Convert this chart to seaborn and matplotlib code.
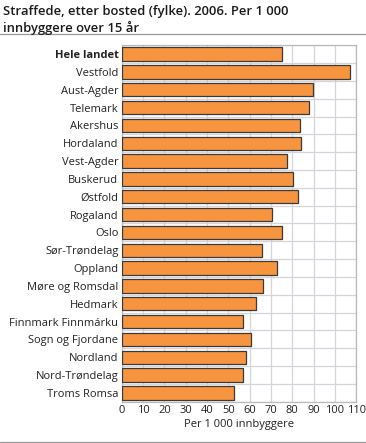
import numpy as np
import pandas as pd
import matplotlib
matplotlib.use("Agg")
import matplotlib.pyplot as plt
import seaborn as sns

fylker = ["Hele landet", "Vestfold", "Aust-Agder", "Telemark", "Akershus",
          "Hordaland", "Vest-Agder", "Buskerud", "Østfold", "Rogaland", "Oslo",
          "Sør-Trøndelag", "Oppland", "Møre og Romsdal", "Hedmark",
          "Finnmark Finnmárku", "Sogn og Fjordane", "Nordland",
          "Nord-Trøndelag", "Troms Romsa"]
per_1000 = [75.4, 106.9, 89.6, 87.7, 83.6, 84.1, 77.6, 80.2, 82.7, 70.5, 75.2,
            65.9, 72.7, 66.3, 63.2, 56.9, 60.5, 58.4, 57.1, 52.6]
x_ticks = list(range(0, 111, 10))

df = pd.DataFrame({"fylke": fylker, "verdi": per_1000})

sns.set_style("white")
plt.rcParams["font.family"] = ["Open Sans", "DejaVu Sans"]

fig = plt.figure(figsize=(3.66, 4.43), dpi=100)
ax = fig.add_axes([0.333, 0.093, 0.64, 0.805])

sns.barplot(data=df, x="verdi", y="fylke", orient="h", color="#F7943F",
            saturation=1, edgecolor="#3a3a3a", linewidth=0.9, width=0.75, ax=ax,
            zorder=3)

ax.set_xlim(0, 110)
ax.set_ylim(len(fylker) - 0.5, -0.5)
ax.set_xticks(x_ticks)
ax.set_xticklabels([str(t) for t in x_ticks], fontsize=8, color="#222222")
ax.set_yticks(range(len(fylker)))
ax.set_yticklabels(fylker, fontsize=8, color="#222222")
ax.get_yticklabels()[0].set_fontweight("bold")
ax.set_yticks(np.arange(-0.5, len(fylker), 1), minor=True)
ax.tick_params(axis="both", which="both", length=0, pad=2.5)

ax.grid(True, axis="x", which="major", color="#d4d4dc", linewidth=0.9, zorder=0)
ax.grid(True, axis="y", which="minor", color="#d4d4dc", linewidth=0.9, zorder=0)
ax.grid(False, axis="y", which="major")
for s in ax.spines.values():
    s.set_color("#b8b8c0")
    s.set_linewidth(0.9)

ax.set_xlabel("Per 1 000 innbyggere", fontsize=8, color="#222222", labelpad=2)
ax.set_ylabel("")

fig.text(0.008, 0.988, "Straffede, etter bosted (fylke). 2006. Per 1 000\ninnbyggere over 15 år",
         fontsize=9.4, fontweight="semibold", va="top", ha="left",
         color="#1a1a1a", linespacing=1.25)
fig.add_artist(plt.Line2D([0.0, 1.0], [0.923, 0.923], color="#999999", linewidth=0.9))
fig.add_artist(plt.Line2D([0.0, 1.0], [0.003, 0.003], color="#999999", linewidth=0.9))

fig.savefig("out.png", dpi=100)
